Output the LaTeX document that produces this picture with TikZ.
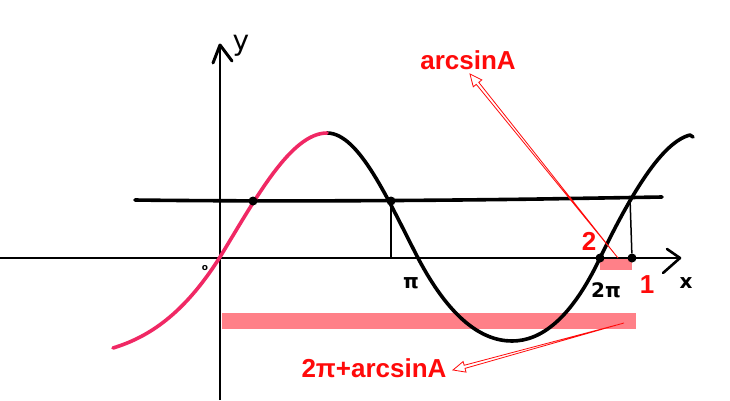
\documentclass[tikz,border=0pt]{standalone}
\usepackage{fontspec}
\setmainfont{Liberation Sans}
\newfontfamily\handfont{DejaVu Sans}
\usetikzlibrary{calc}
\definecolor{curvered}{RGB}{240,40,100}
\definecolor{barpink}{RGB}{255,128,136}
\definecolor{labred}{RGB}{255,10,10}
\tikzset{
  blk/.style={black,line width=3.6pt,line cap=round,line join=round},
  axis/.style={black,line width=2pt},
  thin/.style={black,line width=1.5pt},
  dot/.style={circle,fill=black,inner sep=0pt,minimum size=9pt},
  lab/.style={text=labred,font=\bfseries\fontsize{26}{26}\selectfont,inner sep=0pt},
  hand/.style={font=\handfont\bfseries\fontsize{20}{20}\selectfont,inner sep=0pt},
  hollow/.style={draw=labred,fill=white,line width=0.8pt,line join=miter}
}
\newcommand{\hollowarrow}[2]{%
  \coordinate (hb) at ($(#2)!12pt!(#1)$);
  \path[hollow] (#1) -- ($(hb)!1.6pt!90:(#2)$) -- ($(hb)!5.5pt!90:(#2)$) -- (#2)
     -- ($(hb)!5.5pt!-90:(#2)$) -- ($(hb)!1.6pt!-90:(#2)$) -- cycle;}
\begin{document}
\begin{tikzpicture}[x=1pt,y=-1pt]
\useasboundingbox[fill=white] (0,0) rectangle (730,400);
% pink bars
\fill[barpink] (222,313) rectangle (636,329);
\fill[barpink] (600,259) rectangle (632,270);
% axes
\coordinate (xs) at (0,258);
\coordinate (xe) at (680,258);
\coordinate (ys) at (220,400);
\coordinate (ye) at (220,45);
\draw[axis] (xs) -- (xe);
\draw[axis] (ys) -- (ye);
\draw[axis,line width=2.6pt,line cap=round,line join=round] (667,249) -- (xe) -- (663,273);
\draw[axis,line cap=round,line join=round,line width=3pt] (213,63) -- (ye) -- (232,61);
\node[hand,font=\handfont\fontsize{28}{28}\selectfont] (ylab) at (241,46) {y};
\node[hand] (xlab) at (686,283) {x};
\node[hand,font=\handfont\bfseries\fontsize{9}{9}\selectfont] (olab) at (205,268) {o};
% horizontal line y = A
\draw[blk] (135,200) .. controls (250,201.5) and (400,201) .. (540,199) -- (662,197);
% sine curve
\draw[blk] (327,133) .. controls (359,133) and (388,200) .. (418,258)
  .. controls (449,317) and (481,341) .. (512,341)
  .. controls (541,341) and (571,319) .. (600,258)
  .. controls (631,194) and (662,142) .. (690,135) -- (693,137);
\draw[curvered,line width=3.6pt,line cap=round] (113,348) .. controls (149,337) and (184,314) .. (220,257)
  .. controls (256,198) and (291,133) .. (327,133);
% intersection dots
\node[dot] (d1) at (253,201) {};
\node[dot] (d2) at (391,201) {};
\node[dot,minimum size=4pt] (d3) at (630,198) {};
\node[dot] (d4) at (600,258) {};
\node[dot] (d5) at (632,258) {};
\coordinate (f1) at (391,258);
\draw[thin] (d2) -- (f1);
\draw[thin] (d3) -- (d5);
% handwritten pi labels
\node[hand] (pi1) at (411,283) {π};
\node[hand] (pi2) at (606,290) {2π};
% red labels
\node[lab] (arc) at (468,60) {arcsinA};
\node[lab] (two) at (589,241) {2};
\node[lab] (one) at (647,285) {1};
\node[lab] (arc2) at (374,368) {2π+arcsinA};
% hollow arrows
\coordinate (t1) at (618,258);
\coordinate (h1) at (470,74);
\hollowarrow{t1}{h1}
\coordinate (t2) at (624,323);
\coordinate (h2) at (453,370);
\hollowarrow{t2}{h2}
\end{tikzpicture}
\end{document}
